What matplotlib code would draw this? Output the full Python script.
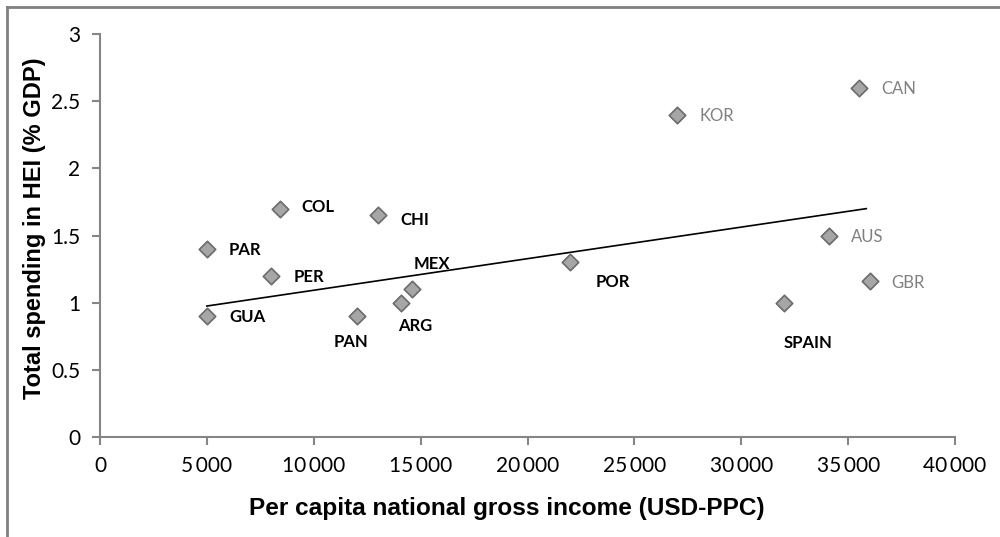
import matplotlib
matplotlib.use("Agg")
import matplotlib.pyplot as plt
from matplotlib.lines import Line2D
from matplotlib.ticker import FuncFormatter

# Data
countries = ["GUA", "PAR", "PER", "COL", "CHI", "PAN", "ARG", "MEX",
             "POR", "KOR", "CAN", "AUS", "GBR", "SPAIN"]
income = [5000, 5000, 8000, 8400, 13000, 12000, 14100, 14600,
          22000, 27000, 35500, 34100, 36000, 32000]
spending = [0.9, 1.4, 1.2, 1.7, 1.65, 0.9, 1.0, 1.1,
            1.3, 2.4, 2.6, 1.5, 1.16, 1.0]
grey_labels = ["KOR", "CAN", "AUS", "GBR"]

# Trend line end points as drawn in the chart
trend_x = [5000, 35850]
trend_y = [0.975, 1.70]

x_ticks = [0, 5000, 10000, 15000, 20000, 25000, 30000, 35000, 40000]
y_ticks = [0, 0.5, 1, 1.5, 2, 2.5, 3]

# label offsets in points (dx, dy, ha, va)
label_pos = {
    "GUA": (16, -1, "left", "center"),
    "PAR": (16, -1, "left", "center"),
    "PER": (16, -1, "left", "center"),
    "COL": (16, 1, "left", "center"),
    "CHI": (16, -3, "left", "center"),
    "PAN": (-4, -19, "center", "center"),
    "ARG": (10, -17, "center", "center"),
    "MEX": (14, 18, "center", "center"),
    "POR": (18, -14, "left", "center"),
    "KOR": (16, -1, "left", "center"),
    "CAN": (16, -1, "left", "center"),
    "AUS": (16, -1, "left", "center"),
    "GBR": (16, -1, "left", "center"),
    "SPAIN": (0, -29, "left", "center"),
}

AXIS_GREY = "#868686"

fig = plt.figure(figsize=(10, 5.37), dpi=100)
ax = fig.add_axes([0.1, 0.1862, 0.855, 0.7505])

# outer chart frame (only left/top edges fall inside the image)
frame_x = 0.0065
frame_y = 0.987
fig.add_artist(Line2D([frame_x, 1.0], [frame_y, frame_y], transform=fig.transFigure,
                      color="#808080", linewidth=2))
fig.add_artist(Line2D([frame_x, frame_x], [0.0, frame_y], transform=fig.transFigure,
                      color="#808080", linewidth=2))

ax.plot(trend_x, trend_y, color="black", linewidth=1.2, zorder=2)
ax.scatter(income, spending, marker="D", s=70, facecolor="#a6a6a6",
           edgecolor="#6b6b6b", linewidth=1.2, zorder=3)

for name, x, y in zip(countries, income, spending):
    dx, dy, ha, va = label_pos[name]
    if name in grey_labels:
        kw = dict(color="#808080", fontweight="normal")
    else:
        kw = dict(color="black", fontweight="bold")
    ax.annotate(name, (x, y), xytext=(dx, dy), textcoords="offset points",
                ha=ha, va=va, fontsize=12, family="Lato", **kw)

ax.set_xlim(0, 40000)
ax.set_ylim(0, 3)
ax.set_xticks(x_ticks)
ax.set_yticks(y_ticks)
ax.xaxis.set_major_formatter(FuncFormatter(lambda v, p: f"{int(v):,}".replace(",", "\u2009")))
ax.yaxis.set_major_formatter(FuncFormatter(lambda v, p: f"{v:g}"))

for side in ["top", "right"]:
    ax.spines[side].set_visible(False)
for side in ["left", "bottom"]:
    ax.spines[side].set_color(AXIS_GREY)
    ax.spines[side].set_linewidth(1.5)
ax.tick_params(direction="out", length=6, width=1.5, color=AXIS_GREY,
               labelsize=15, pad=8)
for lbl in ax.get_xticklabels() + ax.get_yticklabels():
    lbl.set_family("Lato")

ax.set_xlabel("Per capita national gross income (USD-PPC)", fontsize=17.6,
              fontweight="bold", family="Liberation Sans")
ax.set_ylabel("Total spending in HEI (% GDP)", fontsize=17,
              fontweight="bold", family="Liberation Sans")
ax.xaxis.set_label_coords(0.476, -0.148)
ax.yaxis.set_label_coords(-0.063, 0.517)

fig.savefig("out.png", dpi=100)
